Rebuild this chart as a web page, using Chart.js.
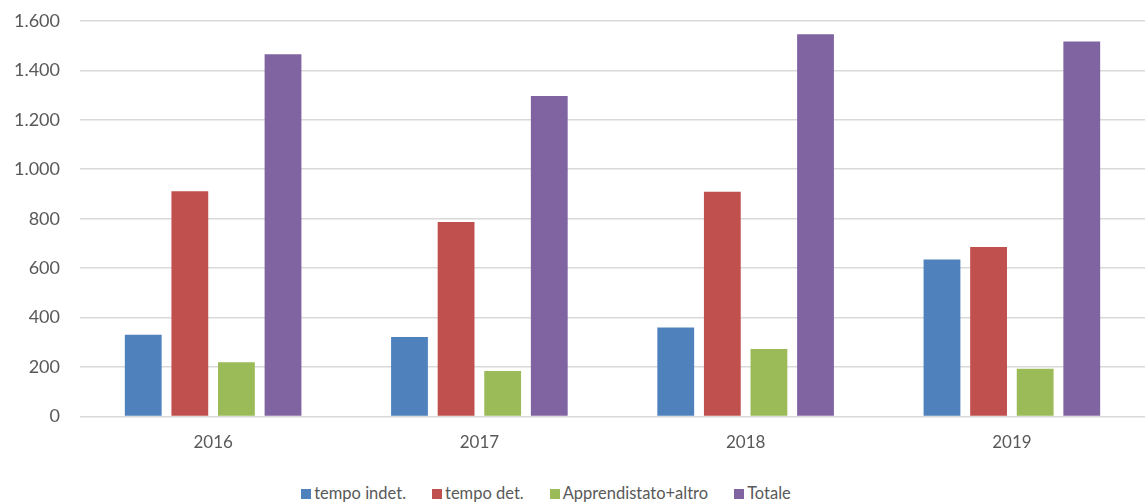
<!DOCTYPE html>
<html>
<head>
<meta charset="utf-8">
<script src="https://cdn.jsdelivr.net/npm/chart.js@4/dist/chart.umd.min.js"></script>
<style>
  html, body { margin: 0; padding: 0; background: #fff; }
  #wrap { position: relative; width: 1145px; height: 503px; overflow: hidden; }
  #box { position: absolute; left: 0; top: -10px; width: 1145px; height: 471px; }
  #legenda {
    position: absolute; left: 0; top: 482px; width: 1092px;
    text-align: center; font-family: Lato, "Open Sans", sans-serif;
    font-size: 16.5px; color: #595959; line-height: 22px; white-space: nowrap;
  }
  #legenda span.voce { display: inline-block; margin: 0 13px; }
  #legenda span.quad { display: inline-block; width: 10px; height: 10px; margin-right: 3px; }
</style>
</head>
<body>
<div id="wrap">
  <div id="box"><canvas id="contrattiChart"></canvas></div>
  <div id="legenda"></div>
</div>
<script>
// anni e numero di contratti per tipologia
var anni = ['2016', '2017', '2018', '2019'];
var tempoIndet = [331, 322, 360, 635];
var tempoDet = [911, 787, 909, 686];
var apprendistato = [220, 184, 273, 193];
var totale = [1465, 1296, 1546, 1516];

function formatta(v) {
    // separatore delle migliaia col punto
    return String(v).replace(/\B(?=(\d{3})+(?!\d))/g, '.');
}

Chart.defaults.font.family = 'Lato, "Open Sans", sans-serif';
Chart.defaults.color = '#595959';

var ctx = document.getElementById('contrattiChart');
var chart = new Chart(ctx, {
    type: 'bar',
    data: {
        labels: anni,
        datasets: [
            { label: 'tempo indet.', data: tempoIndet, backgroundColor: '#4f81bd' },
            { label: 'tempo det.', data: tempoDet, backgroundColor: '#c0504d' },
            { label: 'Apprendistato+altro', data: apprendistato, backgroundColor: '#9bbb59' },
            { label: 'Totale', data: totale, backgroundColor: '#8064a2' }
        ]
    },
    options: {
        responsive: true,
        maintainAspectRatio: false,
        animation: false,
        datasets: {
            bar: { categoryPercentage: 0.7, barPercentage: 0.79 }
        },
        layout: { padding: 0 },
        plugins: {
            tooltip: { enabled: false },
            legend: { display: false }
        },
        scales: {
            x: {
                grid: { display: false },
                border: { display: false },
                ticks: { font: { size: 17 }, padding: 8 }
            },
            y: {
                min: 0,
                max: 1600,
                afterFit: function (scale) { scale.width = 80; },
                ticks: {
                    stepSize: 200,
                    font: { size: 18 },
                    padding: 20,
                    callback: function (v) { return formatta(v); }
                },
                grid: { color: '#d9d9d9', lineWidth: 1.5, drawTicks: false },
                border: { display: false }
            }
        }
    }
});

// legenda sotto il grafico, dai dataset
var leg = document.getElementById('legenda');
chart.data.datasets.forEach(function (ds) {
    var voce = document.createElement('span');
    voce.className = 'voce';
    var quad = document.createElement('span');
    quad.className = 'quad';
    quad.style.background = ds.backgroundColor;
    voce.appendChild(quad);
    voce.appendChild(document.createTextNode(ds.label));
    leg.appendChild(voce);
});
</script>
</body>
</html>
